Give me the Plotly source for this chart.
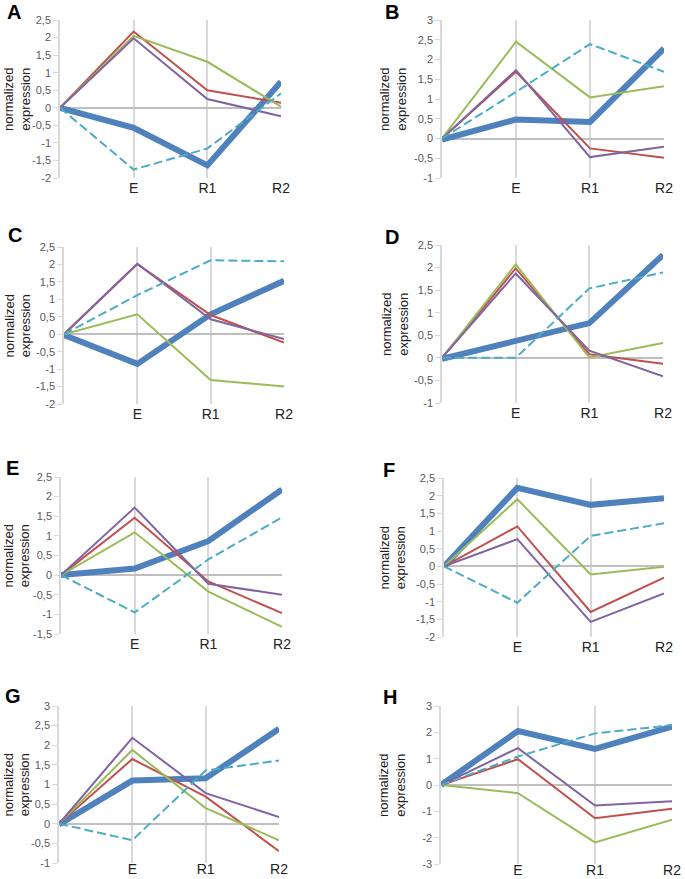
import plotly.graph_objects as go

categories = ["", "E", "R1", "R2"]
series_names = ["blue", "red", "green", "purple", "cyan"]

# values per panel, order: blue(thick), red, green, purple, cyan(dashed)
panel_A = [[0, -0.57, -1.64, 0.74], [0, 2.17, 0.50, 0.14], [0, 2.05, 1.31, 0.03], [0, 1.98, 0.25, -0.24], [0, -1.76, -1.16, 0.41]]
panel_B = [[-0.03, 0.48, 0.42, 2.28], [0, 1.69, -0.25, -0.49], [0, 2.45, 1.04, 1.32], [0, 1.73, -0.47, -0.21], [0, 1.18, 2.39, 1.69]]
panel_C = [[-0.02, -0.85, 0.57, 1.53], [0, 2.01, 0.55, -0.24], [0, 0.57, -1.31, -1.50], [0, 2.02, 0.43, -0.14], [0, 1.12, 2.12, 2.09]]
panel_D = [[-0.02, 0.38, 0.77, 2.28], [0, 1.98, 0.08, -0.13], [0, 2.07, 0.01, 0.33], [0, 1.87, 0.16, -0.41], [0, 0.0, 1.54, 1.89]]
panel_E = [[0, 0.17, 0.87, 2.18], [0, 1.46, -0.16, -0.97], [0, 1.09, -0.42, -1.32], [0, 1.72, -0.22, -0.50], [0, -0.95, 0.40, 1.47]]
panel_F = [[0, 2.22, 1.74, 1.93], [0, 1.13, -1.29, -0.32], [0, 1.90, -0.23, -0.01], [0, 0.77, -1.57, -0.77], [0, -1.03, 0.86, 1.22]]
panel_G = [[-0.02, 1.10, 1.16, 2.42], [0, 1.65, 0.69, -0.70], [0, 1.88, 0.40, -0.42], [0, 2.19, 0.78, 0.17], [0, -0.42, 1.36, 1.61]]
panel_H = [[0, 2.05, 1.37, 2.22], [0, 0.98, -1.26, -0.90], [0, -0.31, -2.18, -1.32], [0, 1.40, -0.78, -0.62], [0, 1.08, 1.96, 2.27]]

panel_letters = ["A", "B", "C", "D", "E", "F", "G", "H"]
panel_data = [panel_A, panel_B, panel_C, panel_D, panel_E, panel_F, panel_G, panel_H]
y_min = [-2, -1, -2, -1, -1.5, -2, -1, -3]
y_max = [2.5, 3, 2.5, 2.5, 2.5, 2.5, 3, 3]
y_step = [0.5, 0.5, 0.5, 0.5, 0.5, 0.5, 0.5, 1]
y_title = "normalized<br>expression"

# layout geometry (pixels)
W, H = 685, 879
boxes = [  # x0, x1, y0(top), y1(bottom)
    (60, 281, 20, 178), (442, 664, 20, 178),
    (64, 284, 247, 404), (442, 663, 245, 403),
    (61, 282, 477, 634), (444, 664, 478, 637),
    (59, 279, 706, 863), (441, 672, 706, 864),
]
label_standoff = [0, 0, 0, 0, 0, 0, -4, -4]
letter_pos = [(14, 12), (392, 12), (15, 235), (392, 237), (12, 468), (389, 470), (13, 696), (390, 697)]
title_x = [17, 393, 17, 395, 16, 392, 16, 392]

styles = {
    "blue": dict(color="#4F81BD", width=6),
    "red": dict(color="#C0504D", width=2),
    "green": dict(color="#9BBB59", width=2),
    "purple": dict(color="#8064A2", width=2),
    "cyan": dict(color="#4BACC6", width=2, dash="9px,4px"),
}
draw_order = ["blue", "red", "green", "purple", "cyan"]

fig = go.Figure()
annotations = []
layout = {}

def fmt(v):
    return f"{v:g}".replace(".", ",")

for i, data in enumerate(panel_data):
    k = "" if i == 0 else str(i + 1)
    xa, ya = "x" + k, "y" + k
    for name in draw_order:
        vals = data[series_names.index(name)]
        fig.add_trace(go.Scatter(
            x=categories, y=vals, mode="lines", line=styles[name],
            xaxis=xa, yaxis=ya, showlegend=False, hoverinfo="skip",
        ))
    x0, x1, t, b = boxes[i]
    n = int(round((y_max[i] - y_min[i]) / y_step[i]))
    tv = [y_min[i] + j * y_step[i] for j in range(n + 1)]
    layout["xaxis" + k] = dict(
        domain=[x0 / W, x1 / W], anchor=ya, type="category", automargin=False,
        range=[0, len(categories) - 1], showgrid=True, gridcolor="#D9D9D9", gridwidth=1.5,
        showline=False, zeroline=False, ticks="", ticklabelstandoff=label_standoff[i],
        tickfont=dict(family="Liberation Sans, Arial", size=14, color="#222222"),
    )
    layout["yaxis" + k] = dict(
        domain=[1 - b / H, 1 - t / H], anchor=xa, range=[y_min[i], y_max[i]], automargin=False,
        tickvals=tv, ticktext=[fmt(v) for v in tv],
        showgrid=False, zeroline=True, zerolinecolor="#BFBFBF", zerolinewidth=1.5,
        showline=True, linecolor="#D9D9D9", linewidth=1.5,
        ticks="outside", ticklen=5, tickcolor="#D9D9D9", tickwidth=1,
        tickfont=dict(family="Liberation Sans, Arial", size=11, color="#595959"),
    )
    lx, ly = letter_pos[i]
    annotations.append(dict(
        text="<b>%s</b>" % panel_letters[i], x=lx / W, y=1 - ly / H, xref="paper", yref="paper",
        showarrow=False, xanchor="center", yanchor="middle",
        font=dict(family="Liberation Sans, Arial", size=20, color="#000000"),
    ))
    annotations.append(dict(
        text=y_title, x=title_x[i] / W, y=1 - ((t + b) / 2) / H, xref="paper", yref="paper",
        showarrow=False, xanchor="center", yanchor="middle", textangle=-90,
        font=dict(family="Liberation Sans, Arial", size=13, color="#222222"),
    ))

fig.update_layout(
    width=W, height=H, margin=dict(l=0, r=0, t=0, b=0, autoexpand=False),
    paper_bgcolor="white", plot_bgcolor="white",
    annotations=annotations, **layout,
)
fig.write_html("out.html", config={"displayModeBar": False},
               post_script="document.body.style.margin='0';")
